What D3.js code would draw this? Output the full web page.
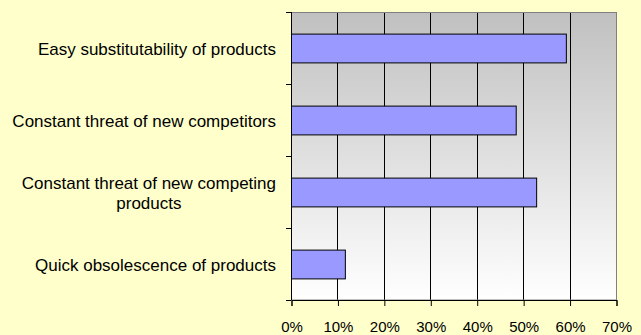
<!DOCTYPE html>
<html>
<head>
<meta charset="utf-8">
<script src="https://cdn.jsdelivr.net/npm/d3@7"></script>
<style>
  html, body { margin: 0; padding: 0; background: #FFFFCC; }
  svg { display: block; }
  text { font-family: "Liberation Sans", Arial, sans-serif; fill: #000; }
</style>
</head>
<body>
<svg id="chart" width="641" height="335"></svg>
<script>
// Competitive pressures, share of respondents
const categories = [
  ["Easy substitutability of products"],
  ["Constant threat of new competitors"],
  ["Constant threat of new competing", "products"],
  ["Quick obsolescence of products"]
];
const values = [0.592, 0.484, 0.528, 0.116];
const xTicks = [0, 0.1, 0.2, 0.3, 0.4, 0.5, 0.6, 0.7];

const svg = d3.select("#chart");
const margin = { left: 291, right: 25, top: 12, bottom: 35 };
const W = 641, H = 335;
const plotW = W - margin.left - margin.right;
const plotH = H - margin.top - margin.bottom;

const x = d3.scaleLinear().domain([0, 0.7]).range([0, plotW]);
const y = d3.scaleBand().domain(d3.range(categories.length)).range([0, plotH]).paddingInner(0.6).paddingOuter(0.3);
const yOuter = d3.scaleBand().domain(d3.range(categories.length)).range([0, plotH]);

const defs = svg.append("defs");
const grad = defs.append("linearGradient").attr("id", "plotBg")
  .attr("x1", 0).attr("y1", 0).attr("x2", 0).attr("y2", 1);
grad.append("stop").attr("offset", "0%").attr("stop-color", "#c0c0c0");
grad.append("stop").attr("offset", "100%").attr("stop-color", "#ffffff");

const g = svg.append("g").attr("transform", `translate(${margin.left},${margin.top})`);

// plot area
g.append("rect").attr("width", plotW).attr("height", plotH).attr("fill", "url(#plotBg)");

// vertical gridlines
g.selectAll("line.grid").data(xTicks.slice(1, -1)).join("line")
  .attr("class", "grid")
  .attr("x1", d => Math.round(x(d)) + 0.5).attr("x2", d => Math.round(x(d)) + 0.5)
  .attr("y1", 0).attr("y2", plotH)
  .attr("stroke", "#000").attr("stroke-width", 1);

// plot border
g.append("rect").attr("x", 0.5).attr("y", 0.5).attr("width", plotW).attr("height", plotH - 0.5)
  .attr("fill", "none").attr("stroke", "#808080").attr("stroke-width", 1);

// bars
g.selectAll("rect.bar").data(values).join("rect")
  .attr("class", "bar")
  .attr("x", 0.5)
  .attr("y", (d, i) => y(i) + 0.5)
  .attr("width", d => x(d))
  .attr("height", y.bandwidth())
  .attr("fill", "#9999FF")
  .attr("stroke", "#000").attr("stroke-width", 1);

// left axis: tick marks at category boundaries
const yBounds = d3.range(categories.length + 1).map(i => i * yOuter.step());
g.append("line").attr("x1", 0.5).attr("x2", 0.5).attr("y1", 0).attr("y2", plotH)
  .attr("stroke", "#000");
g.selectAll("line.ytick").data(yBounds).join("line")
  .attr("class", "ytick")
  .attr("x1", -5).attr("x2", 0)
  .attr("y1", d => Math.round(d) + 0.5).attr("y2", d => Math.round(d) + 0.5)
  .attr("stroke", "#000");

// bottom axis
const xAxis = d3.axisBottom(x).tickValues(xTicks).tickFormat(d3.format(".0%")).tickSize(6).tickPadding(15);
const xg = g.append("g").attr("transform", `translate(0.5,${plotH})`).call(xAxis);
xg.select(".domain").attr("stroke", "#000");
xg.selectAll(".tick line").attr("stroke", "#000");
xg.selectAll("text").attr("font-size", 15).attr("font-family", "Liberation Sans, Arial, sans-serif").attr("fill", "#000");

// category labels
const labels = g.selectAll("text.cat").data(categories).join("text")
  .attr("class", "cat")
  .attr("font-size", 17)
  .attr("text-anchor", "middle");
labels.each(function(lines, i) {
  const t = d3.select(this);
  const cy = y(i) + y.bandwidth() / 2;
  const lh = 20.5;
  lines.forEach((ln, k) => {
    t.append("tspan").attr("y", cy + (k - (lines.length - 1) / 2) * lh).attr("dy", "0.42em").text(ln);
  });
});
// right-align each label block, centring lines within it
labels.each(function() {
  const t = d3.select(this);
  const spans = t.selectAll("tspan").nodes();
  const widest = d3.max(spans, s => s.getComputedTextLength());
  t.selectAll("tspan").attr("x", -15 - widest / 2);
});
</script>
</body>
</html>
